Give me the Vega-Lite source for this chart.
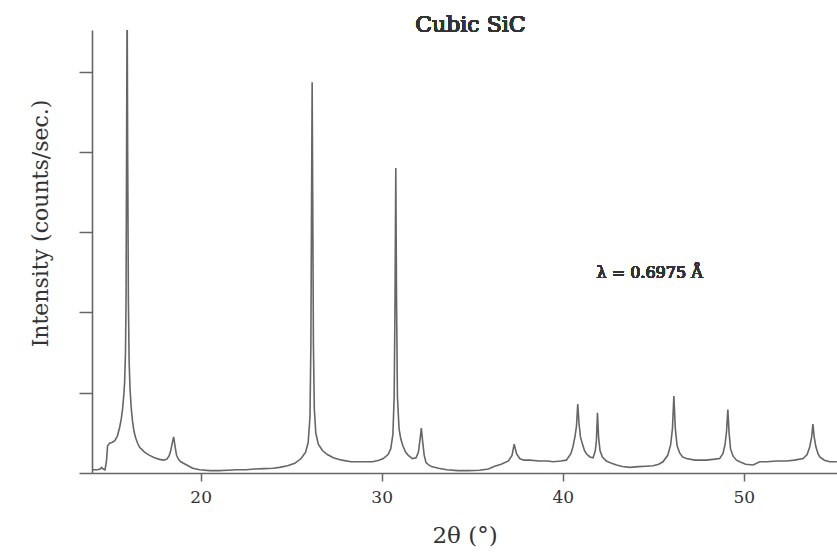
{
  "$schema": "https://vega.github.io/schema/vega-lite/v6.json",
  "width": 745,
  "height": 443,
  "autosize": {"type": "none"},
  "padding": {"left": 92, "top": 30, "right": 0, "bottom": 83},
  "background": "white",
  "config": {"view": {"stroke": null}},
  "data": {"values": [
    {"t": 14.03, "i": 0.04}, {"t": 14.30, "i": 0.04}, {"t": 14.45, "i": 0.05}, {"t": 14.53, "i": 0.07}, {"t": 14.62, "i": 0.05},
    {"t": 14.72, "i": 0.04}, {"t": 14.80, "i": 0.15}, {"t": 14.86, "i": 0.34}, {"t": 14.97, "i": 0.37}, {"t": 15.10, "i": 0.38},
    {"t": 15.25, "i": 0.40}, {"t": 15.40, "i": 0.46}, {"t": 15.52, "i": 0.56}, {"t": 15.62, "i": 0.68}, {"t": 15.69, "i": 0.80},
    {"t": 15.76, "i": 0.98}, {"t": 15.80, "i": 1.12}, {"t": 15.85, "i": 1.50}, {"t": 15.88, "i": 2.15}, {"t": 15.91, "i": 4.0},
    {"t": 15.94, "i": 6.0}, {"t": 15.97, "i": 4.0}, {"t": 16.01, "i": 2.15}, {"t": 16.05, "i": 1.40}, {"t": 16.10, "i": 1.05},
    {"t": 16.17, "i": 0.80}, {"t": 16.24, "i": 0.64}, {"t": 16.32, "i": 0.52}, {"t": 16.41, "i": 0.44}, {"t": 16.52, "i": 0.37},
    {"t": 16.63, "i": 0.32}, {"t": 16.90, "i": 0.26}, {"t": 17.18, "i": 0.22}, {"t": 17.45, "i": 0.19}, {"t": 17.73, "i": 0.17},
    {"t": 17.95, "i": 0.16}, {"t": 18.12, "i": 0.17}, {"t": 18.25, "i": 0.21}, {"t": 18.34, "i": 0.27}, {"t": 18.43, "i": 0.37},
    {"t": 18.51, "i": 0.45}, {"t": 18.59, "i": 0.33}, {"t": 18.67, "i": 0.22}, {"t": 18.78, "i": 0.17}, {"t": 18.90, "i": 0.14},
    {"t": 19.23, "i": 0.10}, {"t": 19.56, "i": 0.06}, {"t": 19.94, "i": 0.04}, {"t": 20.5, "i": 0.03}, {"t": 21.0, "i": 0.03},
    {"t": 21.5, "i": 0.035}, {"t": 22.0, "i": 0.04}, {"t": 22.5, "i": 0.04}, {"t": 23.0, "i": 0.05}, {"t": 23.5, "i": 0.055},
    {"t": 24.0, "i": 0.06}, {"t": 24.36, "i": 0.07}, {"t": 24.8, "i": 0.09}, {"t": 25.2, "i": 0.12}, {"t": 25.55, "i": 0.18},
    {"t": 25.80, "i": 0.26}, {"t": 25.94, "i": 0.38}, {"t": 26.04, "i": 0.70}, {"t": 26.09, "i": 1.60}, {"t": 26.13, "i": 3.5},
    {"t": 26.16, "i": 4.87}, {"t": 26.19, "i": 3.5}, {"t": 26.23, "i": 1.60}, {"t": 26.28, "i": 0.80}, {"t": 26.36, "i": 0.50},
    {"t": 26.50, "i": 0.36}, {"t": 26.73, "i": 0.28}, {"t": 27.0, "i": 0.23}, {"t": 27.33, "i": 0.19}, {"t": 27.8, "i": 0.16},
    {"t": 28.31, "i": 0.14}, {"t": 28.9, "i": 0.14}, {"t": 29.50, "i": 0.14}, {"t": 29.85, "i": 0.16}, {"t": 30.09, "i": 0.18},
    {"t": 30.35, "i": 0.23}, {"t": 30.50, "i": 0.30}, {"t": 30.62, "i": 0.48}, {"t": 30.69, "i": 0.95}, {"t": 30.74, "i": 2.2},
    {"t": 30.78, "i": 3.80}, {"t": 30.82, "i": 2.2}, {"t": 30.87, "i": 0.95}, {"t": 30.96, "i": 0.55}, {"t": 31.06, "i": 0.42},
    {"t": 31.17, "i": 0.34}, {"t": 31.32, "i": 0.26}, {"t": 31.47, "i": 0.22}, {"t": 31.70, "i": 0.18}, {"t": 31.90, "i": 0.19},
    {"t": 32.03, "i": 0.26}, {"t": 32.12, "i": 0.42}, {"t": 32.19, "i": 0.56}, {"t": 32.26, "i": 0.40}, {"t": 32.35, "i": 0.22},
    {"t": 32.45, "i": 0.13}, {"t": 32.60, "i": 0.10}, {"t": 32.75, "i": 0.08}, {"t": 33.14, "i": 0.06}, {"t": 33.6, "i": 0.04},
    {"t": 34.2, "i": 0.03}, {"t": 34.8, "i": 0.03}, {"t": 35.4, "i": 0.035}, {"t": 35.9, "i": 0.05}, {"t": 36.2, "i": 0.08},
    {"t": 36.6, "i": 0.11}, {"t": 37.0, "i": 0.15}, {"t": 37.2, "i": 0.22}, {"t": 37.32, "i": 0.36}, {"t": 37.45, "i": 0.24},
    {"t": 37.62, "i": 0.18}, {"t": 37.85, "i": 0.16}, {"t": 38.18, "i": 0.16}, {"t": 38.7, "i": 0.15}, {"t": 39.17, "i": 0.15},
    {"t": 39.46, "i": 0.14}, {"t": 39.9, "i": 0.15}, {"t": 40.2, "i": 0.16}, {"t": 40.45, "i": 0.24}, {"t": 40.57, "i": 0.33},
    {"t": 40.68, "i": 0.46}, {"t": 40.76, "i": 0.58}, {"t": 40.83, "i": 0.86}, {"t": 40.90, "i": 0.62}, {"t": 40.98, "i": 0.45},
    {"t": 41.09, "i": 0.36}, {"t": 41.20, "i": 0.28}, {"t": 41.31, "i": 0.24}, {"t": 41.50, "i": 0.20}, {"t": 41.68, "i": 0.19},
    {"t": 41.80, "i": 0.28}, {"t": 41.86, "i": 0.40}, {"t": 41.92, "i": 0.75}, {"t": 41.98, "i": 0.45}, {"t": 42.06, "i": 0.28},
    {"t": 42.19, "i": 0.20}, {"t": 42.41, "i": 0.15}, {"t": 42.70, "i": 0.12}, {"t": 42.97, "i": 0.10}, {"t": 43.3, "i": 0.08},
    {"t": 43.70, "i": 0.07}, {"t": 44.2, "i": 0.08}, {"t": 44.6, "i": 0.085}, {"t": 44.99, "i": 0.09}, {"t": 45.30, "i": 0.11},
    {"t": 45.54, "i": 0.14}, {"t": 45.80, "i": 0.22}, {"t": 45.96, "i": 0.35}, {"t": 46.06, "i": 0.55}, {"t": 46.14, "i": 0.96},
    {"t": 46.22, "i": 0.55}, {"t": 46.32, "i": 0.34}, {"t": 46.46, "i": 0.25}, {"t": 46.62, "i": 0.20}, {"t": 46.83, "i": 0.18},
    {"t": 47.3, "i": 0.16}, {"t": 47.94, "i": 0.16}, {"t": 48.3, "i": 0.17}, {"t": 48.67, "i": 0.18}, {"t": 48.85, "i": 0.24},
    {"t": 48.97, "i": 0.36}, {"t": 49.05, "i": 0.52}, {"t": 49.12, "i": 0.79}, {"t": 49.19, "i": 0.50}, {"t": 49.27, "i": 0.30},
    {"t": 49.41, "i": 0.21}, {"t": 49.60, "i": 0.16}, {"t": 49.78, "i": 0.14}, {"t": 50.1, "i": 0.11}, {"t": 50.52, "i": 0.10},
    {"t": 50.88, "i": 0.14}, {"t": 51.3, "i": 0.14}, {"t": 51.8, "i": 0.15}, {"t": 52.36, "i": 0.15}, {"t": 52.8, "i": 0.16},
    {"t": 53.28, "i": 0.18}, {"t": 53.50, "i": 0.23}, {"t": 53.65, "i": 0.33}, {"t": 53.75, "i": 0.45}, {"t": 53.82, "i": 0.61},
    {"t": 53.89, "i": 0.45}, {"t": 53.98, "i": 0.33}, {"t": 54.10, "i": 0.24}, {"t": 54.20, "i": 0.20}, {"t": 54.45, "i": 0.16},
    {"t": 54.75, "i": 0.14}, {"t": 55.14, "i": 0.14}
  ]},
  "layer": [
    {
      "mark": {"type": "line", "color": "#666666", "strokeWidth": 1.6, "clip": true},
      "encoding": {
        "x": {"field": "t", "type": "quantitative",
              "scale": {"domain": [14, 55.15], "nice": false, "zero": false},
              "axis": {"title": "2θ (°)", "values": [20, 30, 40, 50], "grid": false,
                       "domainColor": "#666666", "domainWidth": 1.6, "tickColor": "#666666", "tickWidth": 1.5, "tickSize": 8,
                       "labelFont": "DejaVu Serif", "labelFontSize": 17, "labelColor": "#333333", "labelPadding": 8,
                       "titleFont": "DejaVu Serif", "titleFontSize": 23, "titleFontWeight": "normal", "titleColor": "#333333",
                       "titleY": 62, "titleBaseline": "middle"}},
        "y": {"field": "i", "type": "quantitative",
              "scale": {"domain": [0, 5.52], "nice": false, "zero": false},
              "axis": {"title": "Intensity (counts/sec.)", "values": [0, 1, 2, 3, 4, 5], "labels": false, "grid": false,
                       "domainColor": "#666666", "domainWidth": 1.6, "tickColor": "#666666", "tickWidth": 1.5, "tickSize": 13,
                       "titleFont": "DejaVu Serif", "titleFontSize": 22, "titleFontWeight": "normal", "titleColor": "#333333",
                       "titleX": -52, "titleY": 193, "titleAngle": -90, "titleAlign": "center", "titleBaseline": "middle"}}
      }
    },
    {
      "mark": {"type": "text", "text": "Cubic SiC", "font": "DejaVu Serif", "fontSize": 22, "fontWeight": "normal", "color": "#333333", "align": "center", "baseline": "middle"},
      "encoding": {
        "x": {"datum": 34.9, "type": "quantitative"},
        "y": {"datum": 5.58, "type": "quantitative"}
      }
    },
    {
      "mark": {"type": "text", "text": "λ = 0.6975 Å", "font": "DejaVu Serif", "fontSize": 16, "fontWeight": "normal", "color": "#333333", "align": "center", "baseline": "middle"},
      "encoding": {
        "x": {"datum": 44.8, "type": "quantitative"},
        "y": {"datum": 2.49, "type": "quantitative"}
      }
    }
  ]
}
